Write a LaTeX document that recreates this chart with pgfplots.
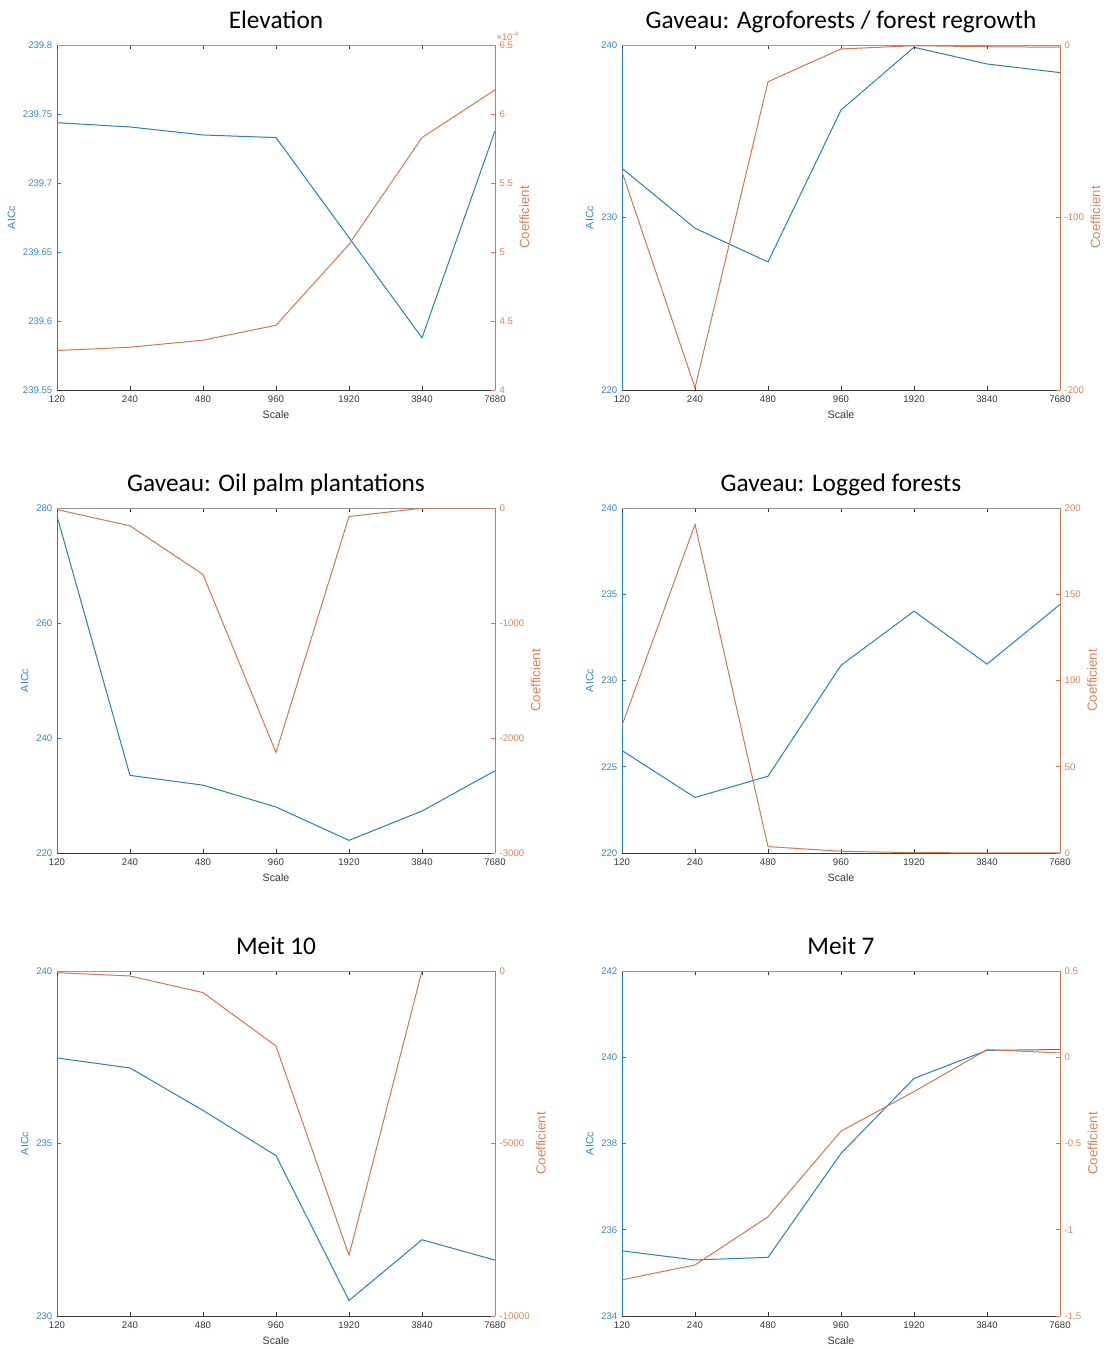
\documentclass[border=0pt]{standalone}
\usepackage{pgfplots}
\usepackage{pgfplotstable}
\pgfplotsset{compat=1.18}
\usepackage{fontspec}
\setmainfont{Liberation Sans}
\newfontfamily\titlefont{Carlito}

\definecolor{mblue}{RGB}{38,128,186}
\definecolor{morange}{RGB}{214,118,76}
\definecolor{mbluet}{RGB}{52,138,190}
\definecolor{moranget}{RGB}{216,132,92}
\definecolor{axdark}{RGB}{55,55,55}
\definecolor{axlight}{RGB}{150,150,150}

% scale  AICc  coefficient  (scales double at each step, so they are
% plotted at equally spaced positions 0..6)
\pgfplotstableread{
scale aicc coef
120  239.7437 4.286e-4
240  239.7406 4.310e-4
480  239.7348 4.361e-4
960  239.7329 4.469e-4
1920 239.6604 5.055e-4
3840 239.5878 5.829e-4
7680 239.7377 6.175e-4
}\elevation
\pgfplotstableread{
scale aicc coef
120  232.85 -73.5
240  229.38 -198.7
480  227.42 -21.3
960  236.23 -2.3
1920 239.87 -0.4
3840 238.90 -1.0
7680 238.40 -1.3
}\agroforest
\pgfplotstableread{
scale aicc coef
120  278.6 -14
240  233.5 -155
480  231.8 -578
960  228.0 -2126
1920 222.2 -74
3840 227.3 -2
7680 234.3 0
}\oilpalm
\pgfplotstableread{
scale aicc coef
120  225.94 74.0
240  223.22 190.5
480  224.45 3.7
960  230.88 1.0
1920 234.02 0.2
3840 230.95 0.1
7680 234.41 0.1
}\logged
\pgfplotstableread{
scale aicc coef
120  237.48 -48
240  237.19 -144
480  235.96 -626
960  234.65 -2176
1920 230.45 -8243
3840 232.21 0
7680 231.62 0
}\meitten
\pgfplotstableread{
scale aicc coef
120  235.51 -1.290
240  235.30 -1.204
480  235.36 -0.925
960  237.77 -0.428
1920 239.51 -0.199
3840 240.16 0.044
7680 240.18 0.025
}\meitseven

\pgfplotsset{
  every non boxed x axis/.style={},
  every non boxed y axis/.style={},
  panel/.style={
    scale only axis, width=328.5pt, height=258.75pt,
    anchor=north west,
    separate axis lines,
    xmin=0, xmax=6,
    xtick={0,1,2,3,4,5,6},
    tick align=inside, major tick length=3pt,
    tick label style={font=\fontsize{7.2}{8}\selectfont},
    label style={font=\fontsize{8}{9}\selectfont},
    /pgf/number format/assume math mode=true,
    /pgf/number format/1000 sep={},
    /pgf/number format/fixed,
    scaled y ticks=false,
  },
  leftax/.style={
    panel,
    axis x line=bottom, axis y line=left,
    x axis line style={-, draw=axdark, line width=0.5pt},
    y axis line style={-, draw=mblue, line width=0.5pt},
    xtick style={draw=axdark, line width=0.4pt},
    ytick style={draw=mblue, line width=0.4pt},
    xticklabels={120,240,480,960,1920,3840,7680},
    xticklabel style={text=axdark, yshift=-1pt},
    yticklabel style={text=mbluet},
    xlabel={Scale}, ylabel={AICc},
    xlabel style={text=axdark, yshift=1pt},
    ylabel style={text=mbluet, yshift=-1pt},
    title style={font=\titlefont\fontsize{19}{22}\selectfont,
      at={(0.5,1)}, anchor=base, yshift=6.5pt},
  },
  rightax/.style={
    panel,
    axis x line=top, axis y line=right,
    x axis line style={-, draw=axlight, line width=0.5pt},
    y axis line style={-, draw=morange, line width=0.5pt},
    xtick style={draw=axdark, line width=0.4pt},
    ytick style={draw=morange, line width=0.4pt},
    xticklabels={},
    yticklabel style={text=moranget},
    ylabel={Coefficient},
    ylabel style={text=moranget, yshift=2pt},
  },
  aicc/.style={mblue, line width=0.75pt, no markers},
  coef/.style={morange, line width=0.75pt, no markers},
}

\begin{document}
\begin{tikzpicture}
\useasboundingbox (0,0) rectangle (830.25pt,-1011.75pt);

% ---------- Elevation ----------
\begin{axis}[leftax, at={(42.75pt,-33.75pt)}, title={Elevation},
  ymin=239.55, ymax=239.8, ytick={239.55,239.6,239.65,239.7,239.75,239.8},
  yticklabel style={/pgf/number format/precision=2}]
\addplot[aicc] table[x expr=\coordindex, y=aicc] {\elevation};
\end{axis}
\begin{axis}[rightax, at={(42.75pt,-33.75pt)},
  ymin=4e-4, ymax=6.5e-4, ytick={4e-4,4.5e-4,5e-4,5.5e-4,6e-4,6.5e-4},
  scaled y ticks=base 10:4,
  ytick scale label code/.code={×10\textsuperscript{#1}},
  every y tick scale label/.style={at={(rel axis cs:1,1)}, anchor=south west,
    inner sep=0pt, yshift=3pt, xshift=1pt, text=moranget,
    font=\fontsize{7}{8}\selectfont}]
\addplot[coef] table[x expr=\coordindex, y=coef] {\elevation};
\end{axis}

% ---------- Agroforests / forest regrowth ----------
\begin{axis}[leftax, at={(466.5pt,-33.75pt)}, title={Gaveau: Agroforests / forest regrowth},
  ymin=220, ymax=240, ytick={220,230,240}]
\addplot[aicc] table[x expr=\coordindex, y=aicc] {\agroforest};
\end{axis}
\begin{axis}[rightax, at={(466.5pt,-33.75pt)},
  ymin=-200, ymax=0, ytick={-200,-100,0}]
\addplot[coef] table[x expr=\coordindex, y=coef] {\agroforest};
\end{axis}

% ---------- Oil palm plantations ----------
\begin{axis}[leftax, at={(42.75pt,-381pt)}, title={Gaveau: Oil palm plantations},
  ymin=220, ymax=280, ytick={220,240,260,280}]
\addplot[aicc] table[x expr=\coordindex, y=aicc] {\oilpalm};
\end{axis}
\begin{axis}[rightax, at={(42.75pt,-381pt)},
  ymin=-3000, ymax=0, ytick={-3000,-2000,-1000,0}]
\addplot[coef] table[x expr=\coordindex, y=coef] {\oilpalm};
\end{axis}

% ---------- Logged forests ----------
\begin{axis}[leftax, at={(466.5pt,-381pt)}, title={Gaveau: Logged forests},
  ymin=220, ymax=240, ytick={220,225,230,235,240}]
\addplot[aicc] table[x expr=\coordindex, y=aicc] {\logged};
\end{axis}
\begin{axis}[rightax, at={(466.5pt,-381pt)},
  ymin=0, ymax=200, ytick={0,50,100,150,200}]
\addplot[coef] table[x expr=\coordindex, y=coef] {\logged};
\end{axis}

% ---------- Meit 10 ----------
\begin{axis}[leftax, at={(42.75pt,-728.25pt)}, title={Meit 10},
  ymin=230, ymax=240, ytick={230,235,240}]
\addplot[aicc] table[x expr=\coordindex, y=aicc] {\meitten};
\end{axis}
\begin{axis}[rightax, at={(42.75pt,-728.25pt)},
  ymin=-10000, ymax=0, ytick={-10000,-5000,0}]
\addplot[coef] table[x expr=\coordindex, y=coef] {\meitten};
\end{axis}

% ---------- Meit 7 ----------
\begin{axis}[leftax, at={(466.5pt,-728.25pt)}, title={Meit 7},
  ymin=234, ymax=242, ytick={234,236,238,240,242}]
\addplot[aicc] table[x expr=\coordindex, y=aicc] {\meitseven};
\end{axis}
\begin{axis}[rightax, at={(466.5pt,-728.25pt)},
  ymin=-1.5, ymax=0.5, ytick={-1.5,-1,-0.5,0,0.5}]
\addplot[coef] table[x expr=\coordindex, y=coef] {\meitseven};
\end{axis}

\end{tikzpicture}
\end{document}
